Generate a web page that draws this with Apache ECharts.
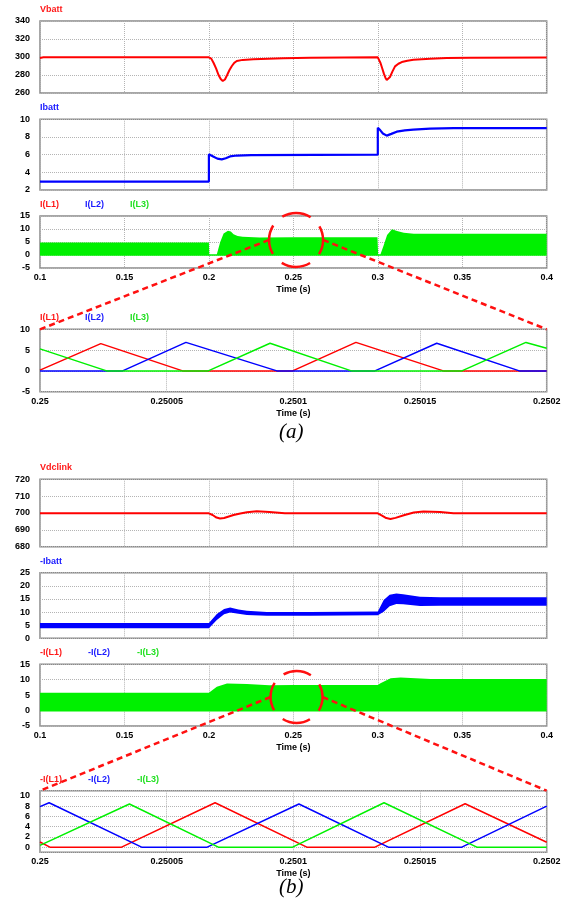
<!DOCTYPE html>
<html><head><meta charset="utf-8">
<script src="https://cdn.jsdelivr.net/npm/echarts@6/dist/echarts.min.js"></script>
<style>html,body{margin:0;padding:0;background:#fff}#c{width:561px;height:909px}</style>
</head><body><div id="c"></div>
<script>
// ---------- DATA ----------
// (a) Vbatt
const vbT = [0.1, 0.102, 0.2, 0.2014, 0.2028, 0.2043, 0.2057, 0.207, 0.2082, 0.2095, 0.2108, 0.2122, 0.2136, 0.215, 0.2165, 0.22, 0.2264, 0.244, 0.26, 0.3, 0.3008, 0.3016, 0.3026, 0.3036, 0.3045, 0.3053, 0.3062, 0.3072, 0.3087, 0.3102, 0.3122, 0.3142, 0.3175, 0.3211, 0.331, 0.3408, 0.355, 0.4];
const vbV = [299.0, 299.6, 299.6, 298.2, 293.3, 287, 280, 275.5, 273.3, 275, 280, 285.5, 290, 293.5, 295.5, 296.8, 297.6, 298.6, 299.2, 299.6, 298, 293.3, 287.5, 281.5, 277, 274.5, 275.5, 277.8, 284, 289.6, 292.5, 294.4, 295.9, 296.9, 298, 298.9, 299.3, 299.5];
// (a) Ibatt
const ibT = [0.1, 0.2, 0.2, 0.2025, 0.205, 0.2076, 0.21, 0.2125, 0.2165, 0.225, 0.3, 0.3, 0.3015, 0.303, 0.3053, 0.308, 0.3112, 0.316, 0.321, 0.331, 0.345, 0.4];
const ibV = [2.95, 2.95, 6.05, 5.8, 5.55, 5.47, 5.6, 5.8, 5.9, 5.95, 6.0, 9.05, 8.75, 8.4, 8.15, 8.35, 8.6, 8.75, 8.83, 8.94, 9.0, 9.0];
// (a) inductor currents envelope (switching band)
const iaT  = [0.1, 0.2, 0.2002, 0.2047, 0.2067, 0.2087, 0.2113, 0.213, 0.2146, 0.217, 0.22, 0.23, 0.25, 0.2998, 0.3002, 0.3016, 0.3036, 0.3055, 0.3084, 0.3114, 0.3154, 0.3213, 0.35, 0.4];
const iaHi = [4.8, 4.8, 0.3, 0.3, 5.0, 8.3, 9.35, 9.0, 8.0, 7.3, 7.0, 6.7, 6.8, 6.8, 0.3, 0.3, 3.9, 7.7, 9.9, 9.2, 8.6, 8.2, 8.2, 8.2];
const iaLo = [-0.25, -0.25, -0.25, -0.25, -0.25, -0.25, -0.25, -0.25, -0.25, -0.25, -0.25, -0.25, -0.25, -0.25, -0.25, -0.25, -0.25, -0.25, -0.25, -0.25, -0.25, -0.25, -0.25, -0.25];
// (a) zoom: I(L1), I(L2), I(L3)
const zaL1T = [0.25, 0.250024, 0.2500563, 0.2500997, 0.2501247, 0.2501592, 0.2502];
const zaL1V = [0.2, 6.55, 0, 0, 6.85, 0, 0];
const zaL2T = [0.25, 0.2500326, 0.2500576, 0.2500935, 0.2501322, 0.2501566, 0.2501892, 0.2502];
const zaL2V = [0, 0, 6.85, 0, 0, 6.65, 0, 0];
const zaL3T = [0.25, 0.2500263, 0.2500664, 0.2500908, 0.2501229, 0.2501665, 0.2501918, 0.2502];
const zaL3V = [5.3, 0, 0, 6.65, 0, 0, 6.85, 5.45];
// (b) Vdclink
const vdT = [0.1, 0.2, 0.2022, 0.2045, 0.2066, 0.209, 0.2118, 0.2146, 0.2186, 0.2225, 0.2283, 0.2358, 0.245, 0.3, 0.3025, 0.305, 0.3075, 0.3105, 0.3154, 0.3213, 0.327, 0.3369, 0.3448, 0.4];
const vdV = [699.8, 699.8, 698.8, 697.3, 696.7, 697.0, 697.9, 698.8, 699.7, 700.4, 701.0, 700.6, 699.9, 699.8, 698.5, 697.0, 696.5, 697.1, 698.7, 700.3, 700.9, 700.6, 699.9, 699.8];
// (b) -Ibatt ripple band
const nbT  = [0.1, 0.2, 0.2047, 0.209, 0.2126, 0.2175, 0.2225, 0.2343, 0.26, 0.3, 0.3035, 0.307, 0.311, 0.315, 0.325, 0.337, 0.4];
const nbHi = [5.8, 5.8, 9.3, 11.2, 11.7, 11.0, 10.5, 10.0, 10.0, 10.2, 14.6, 16.6, 17.1, 16.8, 15.8, 15.6, 15.6];
const nbLo = [3.8, 3.8, 7.0, 9.2, 9.8, 9.4, 8.9, 8.6, 8.6, 8.8, 10.1, 12.2, 13.1, 13.0, 12.3, 12.4, 12.4];
// (b) -I(L) envelope
const nlT  = [0.1, 0.2, 0.2047, 0.2107, 0.2225, 0.2358, 0.25, 0.3, 0.3016, 0.3076, 0.3135, 0.3313, 0.4];
const nlHi = [5.8, 5.8, 7.7, 8.8, 8.6, 8.2, 8.3, 8.3, 8.85, 10.5, 10.7, 10.2, 10.2];
const nlLo = [-0.3, -0.3, -0.3, -0.3, -0.3, -0.3, -0.3, -0.3, -0.3, -0.3, -0.3, -0.3, -0.3];
// (b) zoom: -I(L1), -I(L2), -I(L3)
const zbL1T = [0.25, 0.2500039, 0.2500322, 0.2500691, 0.2501053, 0.2501322, 0.2501678, 0.2502];
const zbL1V = [1.0, 0, 0, 8.65, 0, 0, 8.45, 0.95];
const zbL2T = [0.25, 0.2500036, 0.2500401, 0.250066, 0.2501022, 0.2501375, 0.2501665, 0.2502];
const zbL2V = [7.9, 8.65, 0, 0, 8.4, 0, 0, 8.0];
const zbL3T = [0.25, 0.2500353, 0.2500704, 0.2500997, 0.2501358, 0.2501724, 0.2502];
const zbL3V = [0.35, 8.4, 0, 0, 8.65, 0, 0];
// labels
const panelLabels = [
  [['Vbatt', 'red']],
  [['Ibatt', 'blue']],
  [['I(L1)', 'red'], ['I(L2)', 'blue'], ['I(L3)', 'green']],
  [['I(L1)', 'red'], ['I(L2)', 'blue'], ['I(L3)', 'green']],
  [['Vdclink', 'red']],
  [['-Ibatt', 'blue']],
  [['-I(L1)', 'red'], ['-I(L2)', 'blue'], ['-I(L3)', 'green']],
  [['-I(L1)', 'red'], ['-I(L2)', 'blue'], ['-I(L3)', 'green']]
];
const xTitle = 'Time (s)';
// zoom circle centres (data coords)
const circleA = [0.2516, 5.8];
const circleB = [0.2519, 4.4];

// ---------- STYLE / LAYOUT ----------
const COL = { red: '#ff0000', blue: '#0000ff', green: '#00f000' };
const TXT = { red: '#ff1a1a', blue: '#1a1aff', green: '#22e022' };
const FONT = '"Liberation Sans", Arial, sans-serif';
const LEFT = 40, RIGHT = 14.3;
const grids = [[21, 72], [119.3, 70.7], [216, 52], [329.3, 62.4], [479.3, 67.4], [572.7, 65.6], [664.3, 61.7], [790.7, 61.6]];
const tick = { color: '#000', fontWeight: 'bold', fontSize: 9, fontFamily: FONT };
const split = { show: true, lineStyle: { type: 'dotted', color: '#b4b4b4', width: 1 } };

function xAx(i, full, showLabels) {
  return {
    gridIndex: i, type: 'value',
    min: full ? 0.1 : 0.25, max: full ? 0.4 : 0.2502, interval: full ? 0.05 : 0.00005,
    axisLine: { show: false }, axisTick: { show: false }, splitLine: split,
    axisLabel: Object.assign({ show: showLabels, margin: 5, formatter: v => String(+(+v).toFixed(6)) }, tick),
    name: showLabels ? xTitle : '', nameLocation: 'middle', nameGap: 17,
    nameTextStyle: Object.assign({}, tick)
  };
}
function yAx(i, min, max, interval) {
  const a = {
    gridIndex: i, type: 'value', min: min, max: max,
    axisLine: { show: false }, axisTick: { show: false }, splitLine: split,
    axisLabel: Object.assign({ margin: 10 }, tick)
  };
  if (interval) a.interval = interval;
  return a;
}
function line(i, t, v, color, w) {
  return {
    type: 'line', xAxisIndex: i, yAxisIndex: i, data: t.map((x, k) => [x, v[k]]),
    symbol: 'none', showSymbol: false, silent: true, animation: false,
    lineStyle: { color: color, width: w }
  };
}
function band(i, t, lo, hi, color) {
  return {
    type: 'custom', xAxisIndex: i, yAxisIndex: i, silent: true, animation: false,
    data: t.map((x, k) => [x, lo[k], hi[k]]),
    encode: { x: 0, y: [1, 2] },
    renderItem: function (params, api) {
      if (params.dataIndex !== 0) return null;
      const pts = [];
      for (let k = 0; k < t.length; k++) pts.push(api.coord([t[k], hi[k]]));
      for (let k = t.length - 1; k >= 0; k--) pts.push(api.coord([t[k], lo[k]]));
      return { type: 'polygon', shape: { points: pts }, style: { fill: color, stroke: null } };
    }
  };
}

const yAxes = [
  yAx(0, 260, 340, 20), yAx(1, 2, 10, 2), yAx(2, -5, 15, 5), yAx(3, -5, 10, 5),
  yAx(4, 680, 720, 10), yAx(5, 0, 25, 5), yAx(6, -5, 15, 5), yAx(7, -1, 11, null)
];
yAxes[7].splitNumber = 6;
yAxes[7].axisLabel.showMinLabel = false;
yAxes[7].axisLabel.showMaxLabel = false;
yAxes[7].axisLabel.formatter = v => (v >= 0 && v <= 10 && v % 2 === 0) ? String(v) : '';

const option = {
  backgroundColor: '#fff',
  animation: false,
  grid: grids.map(g => ({ left: LEFT, right: RIGHT, top: g[0], height: g[1], show: true, borderColor: '#8a8a8a', borderWidth: 1.5, backgroundColor: 'transparent', containLabel: false, outerBoundsMode: 'none' })),
  xAxis: [xAx(0, true, false), xAx(1, true, false), xAx(2, true, true), xAx(3, false, true),
          xAx(4, true, false), xAx(5, true, false), xAx(6, true, true), xAx(7, false, true)],
  yAxis: yAxes,
  series: [
    line(0, vbT, vbV, COL.red, 2),
    line(1, ibT, ibV, COL.blue, 2.2),
    band(2, iaT, iaLo, iaHi, COL.green),
    line(3, zaL1T, zaL1V, COL.red, 1.5),
    line(3, zaL2T, zaL2V, COL.blue, 1.5),
    line(3, zaL3T, zaL3V, COL.green, 1.5),
    line(4, vdT, vdV, COL.red, 2),
    band(5, nbT, nbLo, nbHi, COL.blue),
    band(6, nlT, nlLo, nlHi, COL.green),
    line(7, zbL1T, zbL1V, COL.red, 1.5),
    line(7, zbL2T, zbL2V, COL.blue, 1.5),
    line(7, zbL3T, zbL3V, COL.green, 1.5)
  ]
};

const chart = echarts.init(document.getElementById('c'), null, { renderer: 'canvas' });
chart.setOption(option);

// ---------- annotations ----------
const gfx = [];
const labelOffsets = [0, 45, 90];
const labelOffsetsNeg = [0, 48, 97];
panelLabels.forEach((labs, gi) => {
  labs.forEach((lb, k) => {
    const offs = lb[0].startsWith('-I(') ? labelOffsetsNeg : labelOffsets;
    gfx.push({
      type: 'text', left: LEFT + offs[k], top: grids[gi][0] - 16, z: 50,
      style: { text: lb[0], fill: TXT[lb[1]], font: 'bold 9px ' + FONT }
    });
  });
});
function zoomDeco(srcGrid, centre, r, dstGrid) {
  const c = chart.convertToPixel({ gridIndex: srcGrid }, centre);
  const topVal = dstGrid === 3 ? 10 : 11;
  const tl = chart.convertToPixel({ gridIndex: dstGrid }, [0.25, topVal]);
  const tr = chart.convertToPixel({ gridIndex: dstGrid }, [0.2502, topVal]);
  const period = 2 * Math.PI * r / 4;
  const dash = period * 0.7;
  gfx.push({ type: 'circle', z: 60, shape: { cx: c[0], cy: c[1], r: r },
    style: { fill: 'transparent', stroke: '#ff1010', lineWidth: 2.5, lineDash: [dash, period - dash], lineDashOffset: dash / 2 } });
  gfx.push({ type: 'line', z: 60, shape: { x1: c[0] - r, y1: c[1], x2: tl[0], y2: tl[1] },
    style: { stroke: '#ff1010', lineWidth: 2.5, lineDash: [6, 4] } });
  gfx.push({ type: 'line', z: 60, shape: { x1: c[0] + r, y1: c[1], x2: tr[0], y2: tr[1] },
    style: { stroke: '#ff1010', lineWidth: 2.5, lineDash: [6, 4] } });
}
zoomDeco(2, circleA, 27, 3);
zoomDeco(6, circleB, 26, 7);
gfx.push({ type: 'text', left: 279, top: 422, z: 50, style: { text: '(a)', fill: '#000', font: 'italic 21px "Liberation Serif", "Times New Roman", serif' } });
gfx.push({ type: 'text', left: 279, top: 877, z: 50, style: { text: '(b)', fill: '#000', font: 'italic 21px "Liberation Serif", "Times New Roman", serif' } });
chart.setOption({ graphic: gfx });
</script></body></html>
